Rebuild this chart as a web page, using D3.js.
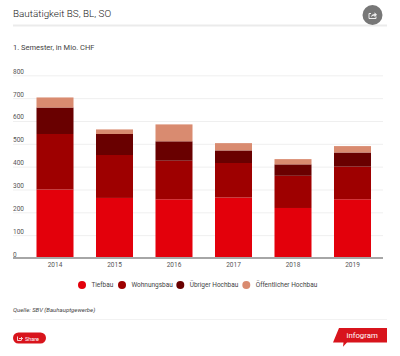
<!DOCTYPE html>
<html>
<head>
<meta charset="utf-8">
<script src="https://cdnjs.cloudflare.com/ajax/libs/d3/7.8.5/d3.min.js"></script>
<style>
	html, body { margin: 0; padding: 0; background: #fff; }
	svg { display: block; }
	text { font-family: Roboto, sans-serif; }
</style>
</head>
<body>
<div id="chart"></div>
<script>
// values, Mio. CHF
const years = ["2014", "2015", "2016", "2017", "2018", "2019"];
const tiefbau = [300, 263, 257, 265, 219, 257];
const wohnungsbau = [243, 188, 169, 151, 141, 143];
const uebriger = [116, 92, 85, 55, 50, 62];
const oeffentlich = [44, 20, 74, 32, 23, 28];

const seriesNames = ["Tiefbau", "Wohnungsbau", "Übriger Hochbau", "Öffentlicher Hochbau"];
const seriesColors = ["#e3000b", "#9e0000", "#690000", "#d98b70"];
const yTicks = [0, 100, 200, 300, 400, 500, 600, 700, 800];

const svg = d3.select("#chart").append("svg")
	.attr("width", 400)
	.attr("height", 356);

// header
svg.append("text").text("Bautätigkeit BS, BL, SO")
	.attr("x", 13).attr("y", 16.5)
	.attr("font-size", 9.9).attr("font-weight", 300).attr("fill", "#222");

svg.append("rect")
	.attr("x", 13).attr("y", 24.5).attr("width", 374).attr("height", 2)
	.attr("fill", "#ebebeb");

svg.append("circle")
	.attr("cx", 372.5).attr("cy", 15).attr("r", 10)
	.attr("fill", "#777");

// share icon: open box with arrow
svg.append("path")
	.attr("d", "M371 13.500H369V18.500H376V16.500")
	.attr("fill", "none").attr("stroke", "#eee").attr("stroke-width", 1);

svg.append("path")
	.attr("d", "M371 17c.3-2 1.700-3 3.500-3v-1.700l2.500 2.500-2.500 2.500v-1.600c-1.400 0-2.500.4-3.500 1.300z")
	.attr("fill", "#eee");

svg.append("text").text("1. Semester, in Mio. CHF")
	.attr("x", 13).attr("y", 50)
	.attr("font-size", 7.5).attr("fill", "#444");

// scales
const x = d3.scaleBand()
	.domain(years)
	.range([25.25, 382.25])
	.paddingInner(0.378)
	.paddingOuter(0.189);

const y = d3.scaleLinear()
	.domain([0, 800])
	.range([258, 75.3]);

// gridlines and tick labels
const yAxis = d3.axisLeft(y)
	.tickValues(yTicks)
	.tickSize(-370)
	.tickPadding(0);

svg.append("g")
	.attr("class", "y-axis")
	.attr("transform", "translate(13,0)")
	.call(yAxis)
	.call(g => g.select(".domain").remove())
	.call(g => g.selectAll("line").attr("stroke", "#efefef"))
	.call(g => g.selectAll("text")
		.attr("text-anchor", "start")
		.attr("x", 0)
		.attr("dy", -2)
		.attr("font-size", 6.5)
		.attr("font-family", "Roboto, sans-serif")
		.attr("fill", "#555"));

// stacked bars
const rows = years.map((d, i) => ({
	year: d,
	Tiefbau: tiefbau[i],
	Wohnungsbau: wohnungsbau[i],
	"Übriger Hochbau": uebriger[i],
	"Öffentlicher Hochbau": oeffentlich[i]
}));

const stacked = d3.stack().keys(seriesNames)(rows);

svg.selectAll(".layer")
	.data(stacked)
	.enter().append("g")
	.attr("class", "layer")
	.attr("fill", (d, i) => seriesColors[i])
	.selectAll("rect")
	.data(d => d)
	.enter().append("rect")
	.attr("x", d => x(d.data.year))
	.attr("y", d => y(d[1]))
	.attr("width", x.bandwidth())
	.attr("height", d => y(d[0]) - y(d[1]));

// x axis
const xAxis = d3.axisBottom(x).tickSize(0).tickPadding(4);

svg.append("g")
	.attr("class", "x-axis")
	.attr("transform", "translate(0,258)")
	.call(xAxis)
	.call(g => g.select(".domain").remove())
	.call(g => g.selectAll("text")
		.attr("font-size", 6.5)
		.attr("font-family", "Roboto, sans-serif")
		.attr("fill", "#555"));

svg.append("rect")
	.attr("x", 13).attr("y", 257).attr("width", 370).attr("height", 2)
	.attr("fill", "#a6a6a6");

// legend
const legendX = [82, 122, 180.3, 246.3];
const legend = svg.selectAll(".legend")
	.data(seriesNames)
	.enter().append("g")
	.attr("class", "legend")
	.attr("transform", (d, i) => "translate(" + legendX[i] + ",285)");

legend.append("circle")
	.attr("r", 4)
	.attr("fill", (d, i) => seriesColors[i]);

legend.append("text")
	.text(d => d)
	.attr("x", 9.4)
	.attr("y", 2.4)
	.attr("font-size", 6.5)
	.attr("fill", "#444");

// footer
svg.append("text").text("Quelle: SBV (Bauhauptgewerbe)")
	.attr("x", 13).attr("y", 312)
	.attr("font-size", 6).attr("font-style", "italic").attr("fill", "#444");

svg.append("rect")
	.attr("x", 13).attr("y", 319).attr("width", 374).attr("height", 1)
	.attr("fill", "#f2f2f2");

svg.append("rect")
	.attr("x", 13).attr("y", 332.5).attr("width", 33).attr("height", 11).attr("rx", 5.5)
	.attr("fill", "#d8141c");

svg.append("path")
	.attr("d", "M17.5 336.5v4h4M19 338.5h3.5M21 337l1.5 1.5-1.5 1.5")
	.attr("fill", "none").attr("stroke", "#fff").attr("stroke-width", 0.8);

svg.append("text").text("Share")
	.attr("x", 25).attr("y", 340.5)
	.attr("font-size", 5.5).attr("fill", "#fff");

// infogram flag
svg.append("path")
	.attr("d", "M339 328H387V342.500H347L343 346.700L343.500 342.500H333Z")
	.attr("fill", "#d8141c");

svg.append("text").text("infogram")
	.attr("x", 346.500).attr("y", 338)
	.attr("font-size", 7.800).attr("fill", "#fff");
</script>
</body>
</html>
